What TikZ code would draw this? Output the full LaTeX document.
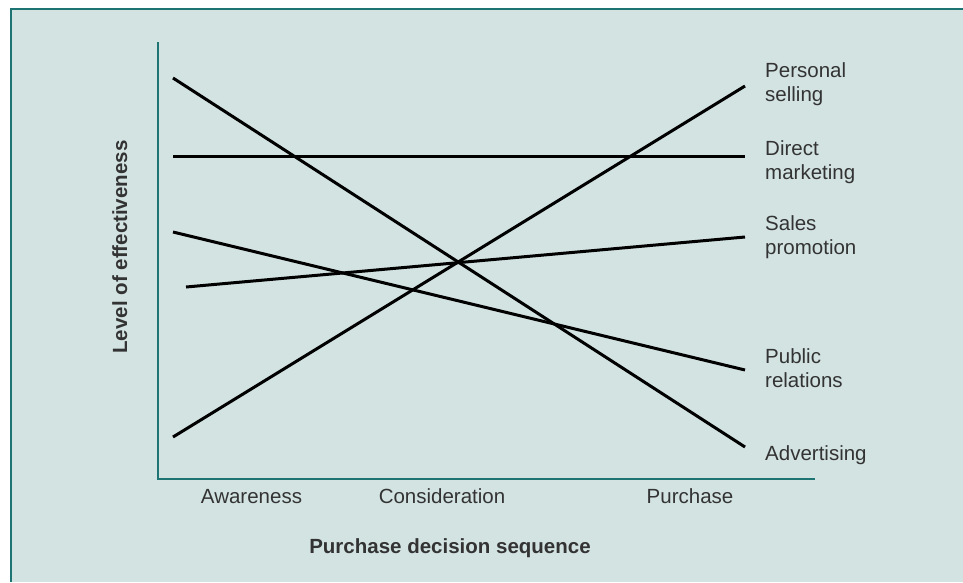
\documentclass[tikz,border=0pt]{standalone}
\usepackage{fontspec}
\setmainfont{Liberation Sans}
\definecolor{bgc}{HTML}{D2E3E2}
\definecolor{teal}{HTML}{1E7373}
\definecolor{txt}{HTML}{333333}
\begin{document}
\begin{tikzpicture}[x=1pt,y=-1pt,
  dataline/.style={line width=3pt, black},
  axisline/.style={line width=2pt, teal},
  lbl/.style={inner sep=0pt, text=txt, font=\fontsize{20.5}{24.5}\selectfont, align=left},
  ttl/.style={inner sep=0pt, text=txt, font=\fontsize{20.5}{24.5}\selectfont\bfseries}]
\useasboundingbox (0,0) rectangle (963,582);
\fill[white] (0,0) rectangle (963,582);
\fill[bgc] (11,9) rectangle (963,582);
\draw[teal, line width=2.5pt] (11,582) -- (11,9) -- (963,9);
% axes
\coordinate (ytop) at (158,42);
\coordinate (orig) at (158,479);
\coordinate (xend) at (815,479);
\draw[axisline] (ytop) -- (orig) -- (xend);
% data lines
\coordinate (adv1) at (173,78);   \coordinate (adv2) at (745,447);
\coordinate (dm1) at (173,156);   \coordinate (dm2) at (745,156);
\coordinate (ps1) at (173,437);   \coordinate (ps2) at (745,86);
\coordinate (sp1) at (186,287);   \coordinate (sp2) at (745,237);
\coordinate (pr1) at (173,232);   \coordinate (pr2) at (745,370);
\draw[dataline] (adv1) -- (adv2);
\draw[dataline] (dm1) -- (dm2);
\draw[dataline] (ps1) -- (ps2);
\draw[dataline] (sp1) -- (sp2);
\draw[dataline] (pr1) -- (pr2);
% series labels
\node[lbl, anchor=north west] (lps) at (765,62) {Personal\\selling};
\node[lbl, anchor=north west] (ldm) at (765,140) {Direct\\marketing};
\node[lbl, anchor=north west] (lsp) at (765,215) {Sales\\promotion};
\node[lbl, anchor=north west] (lpr) at (765,348) {Public\\relations};
\node[lbl, anchor=north west] (lad) at (765,445) {Advertising};
% x tick labels
\node[lbl, anchor=base] (aw) at (251.5,503) {Awareness};
\node[lbl, anchor=base] (co) at (442,503) {Consideration};
\node[lbl, anchor=base] (pu) at (690,503) {Purchase};
% axis titles
\node[ttl, anchor=base] (xt) at (450,553) {Purchase decision sequence};
\node[ttl, rotate=90, anchor=base] (yt) at (127,247) {Level of effectiveness};
\end{tikzpicture}
\end{document}
